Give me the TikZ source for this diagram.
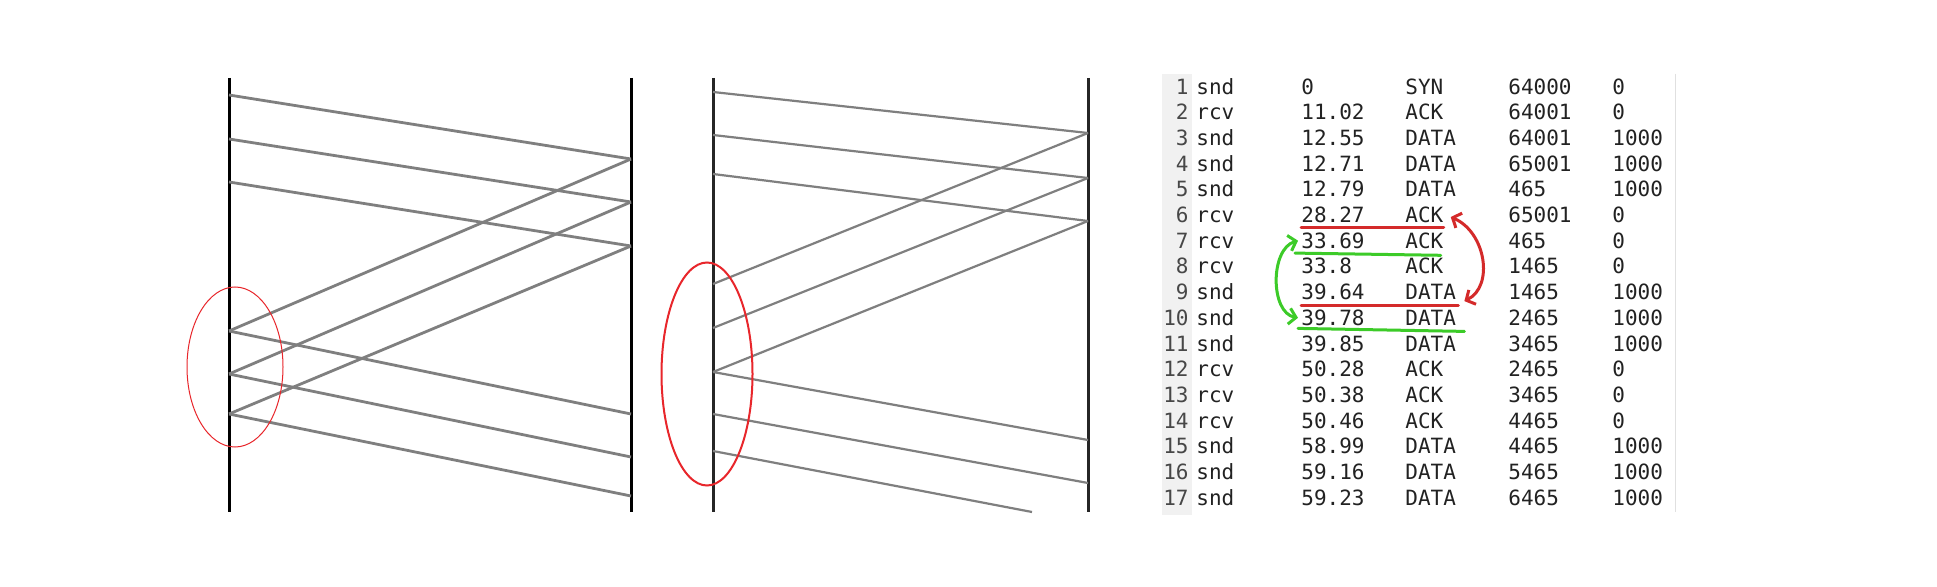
\documentclass[tikz,border=0pt]{standalone}
\usepackage{fontspec}
\setmonofont{DejaVu Sans Mono}
\usetikzlibrary{arrows.meta}

\definecolor{wiregray}{HTML}{7F7F7F}
\definecolor{ringred}{HTML}{E8262B}
\definecolor{penred}{HTML}{D42A2A}
\definecolor{pengreen}{HTML}{3CCB28}
\definecolor{guttergray}{HTML}{F1F1F1}
\definecolor{celltext}{HTML}{222222}

\begin{document}
\begin{tikzpicture}[
        x=0.5pt, y=-0.5pt,
        timeline/.style={line width=1.5pt, black},
        segment/.style={line width=1.4pt, wiregray},
        thinseg/.style={line width=1.1pt, wiregray},
        cell/.style={anchor=west, inner sep=0pt, text height=7.6pt, text depth=0pt, text=celltext, font=\ttfamily\fontsize{10.5}{12}\selectfont},
        penr/.style={line width=1.5pt, penred, line cap=round},
        peng/.style={line width=1.5pt, pengreen, line cap=round},
        >={Straight Barb[length=3.5pt, width=8pt]}
      ]
      \useasboundingbox (0,0) rectangle (1937,587);
      \fill[white] (0,0) rectangle (1937,587);

      % Panel (a) - first exchange
      \coordinate (la-top) at (229,78);
      \coordinate (la-bot) at (229,512);
      \coordinate (lb-top) at (631,78);
      \coordinate (lb-bot) at (631,512);
      \draw[timeline] (la-top) -- (la-bot);
      \draw[timeline] (lb-top) -- (lb-bot);

      \foreach \n/\y in {1/95, 2/139, 3/182, 4/331, 5/374, 6/414}
        \coordinate (la\n) at (229,\y);
      \foreach \n/\y in {1/159, 2/202, 3/246, 4/414, 5/457, 6/496}
        \coordinate (lb\n) at (631,\y);

      \foreach \s/\e in {la1/lb1, la2/lb2, la3/lb3, lb1/la4, lb2/la5, lb3/la6, la4/lb4, la5/lb5, la6/lb6}
        \draw[segment] (\s) -- (\e);

      % Ring on the sender side
      \draw[ringred, line width=0.5pt] (235,367) ellipse [x radius=48, y radius=80];

      % Panel (b) - second exchange
      \coordinate (ma-top) at (713,78);
      \coordinate (ma-bot) at (713,512);
      \coordinate (mb-top) at (1088,78);
      \coordinate (mb-bot) at (1088,512);
      \draw[timeline, black!85] (ma-top) -- (ma-bot);
      \draw[timeline, black!85] (mb-top) -- (mb-bot);

      \foreach \n/\y in {1/92, 2/135, 3/174, 4/284, 5/328, 6/372, 7/414, 8/451}
        \coordinate (ma\n) at (713,\y);
      \foreach \n/\y in {1/133, 2/178, 3/221, 4/440, 5/483}
        \coordinate (mb\n) at (1088,\y);
      \coordinate (mb6) at (1032,512);

      \foreach \s/\e in {ma1/mb1, ma2/mb2, ma3/mb3, mb1/ma4, mb2/ma5, mb3/ma6, ma6/mb4, ma7/mb5, ma8/mb6}
        \draw[thinseg] (\s) -- (\e);

      \draw[ringred, line width=1pt] (707,374) ellipse [x radius=45.5, y radius=111.5];

      % Panel (c) - packet log
      \fill[guttergray] (1162,74) rectangle (1192,515);
      \draw[black!12, line width=0.5pt] (1675,74) -- (1675,512);

      \foreach \r/\who/\tm/\kind/\sq/\ln [count=\i from 0] in {
          1/snd/0/SYN/64000/0,
          2/rcv/11.02/ACK/64001/0,
          3/snd/12.55/DATA/64001/1000,
          4/snd/12.71/DATA/65001/1000,
          5/snd/12.79/DATA/465/1000,
          6/rcv/28.27/ACK/65001/0,
          7/rcv/33.69/ACK/465/0,
          8/rcv/33.8/ACK/1465/0,
          9/snd/39.64/DATA/1465/1000,
          10/snd/39.78/DATA/2465/1000,
          11/snd/39.85/DATA/3465/1000,
          12/rcv/50.28/ACK/2465/0,
          13/rcv/50.38/ACK/3465/0,
          14/rcv/50.46/ACK/4465/0,
          15/snd/58.99/DATA/4465/1000,
          16/snd/59.16/DATA/5465/1000,
          17/snd/59.23/DATA/6465/1000} {
        \node[cell, anchor=east, text=black!72] (num\r) at (1189, 86.5+\i*25.7) {\r};
        \node[cell] (who\r) at (1196, 86.5+\i*25.7) {\who};
        \node[cell] (time\r) at (1301, 86.5+\i*25.7) {\tm};
        \node[cell] (kind\r) at (1405, 86.5+\i*25.7) {\kind};
        \node[cell] (seq\r) at (1508, 86.5+\i*25.7) {\sq};
        \node[cell] (len\r) at (1612, 86.5+\i*25.7) {\ln};
      }

      % Hand-drawn marks
      \draw[penr] ([yshift=-2.2pt]time6.south west) -- ([yshift=-2.2pt]kind6.south east);
      \draw[peng] ([xshift=-3pt, yshift=-2.2pt]time7.south west) -- ([xshift=-1.5pt, yshift=-3.3pt]kind7.south east);
      \draw[penr] ([yshift=-2.6pt]time9.south west) -- ([xshift=1pt, yshift=-2.6pt]kind9.south east);
      \draw[peng] ([xshift=-1.5pt, yshift=-1.3pt]time10.south west) -- ([xshift=4pt, yshift=-2.8pt]kind10.south east);

      \draw[penr, <->] ([xshift=3.5pt, yshift=-1pt]kind6.east) .. controls +(35,15) and +(30,-15) .. ([xshift=4pt, yshift=-4.5pt]kind9.east);
      \draw[peng, <->] ([xshift=-1.5pt]time7.west) .. controls +(-28,8) and +(-28,-5) .. ([xshift=-1.5pt]time10.west);

    \end{tikzpicture}
\end{document}
